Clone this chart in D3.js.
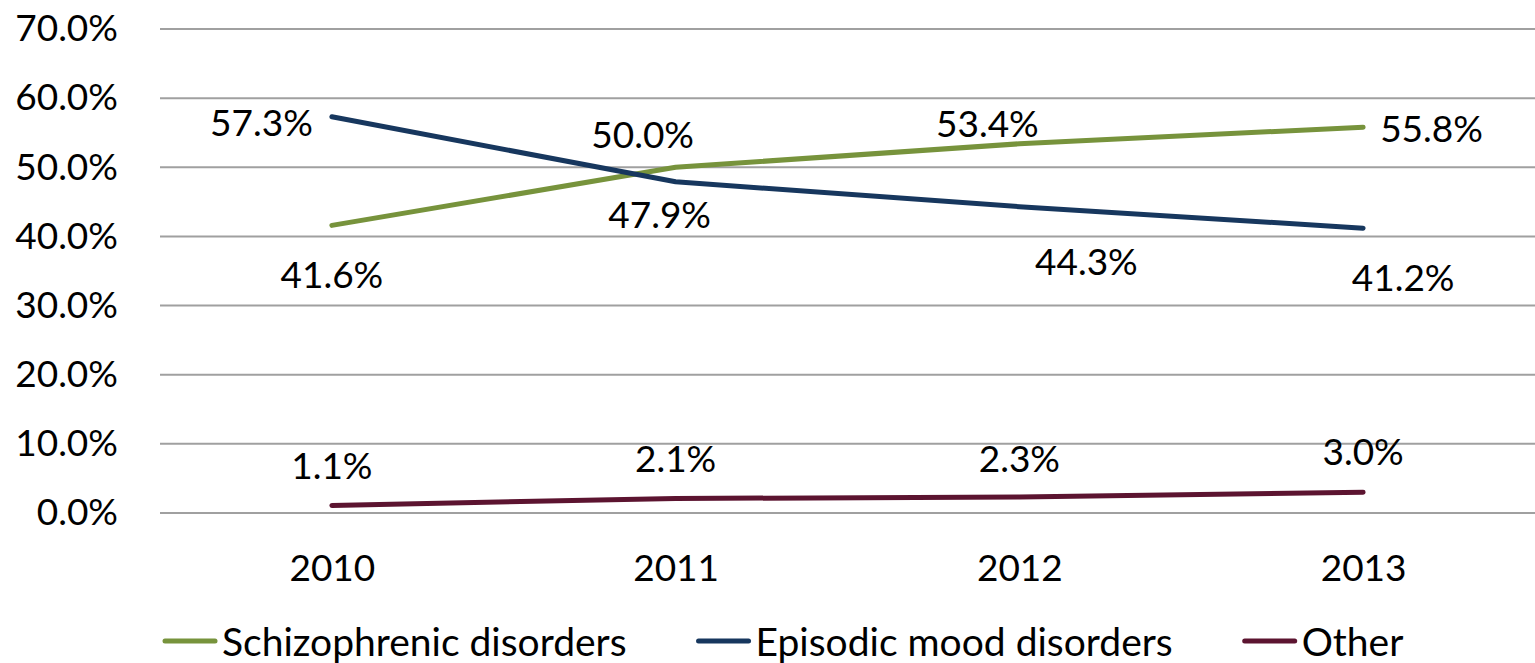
<!DOCTYPE html>
<html>
<head>
<meta charset="utf-8">
<script src="https://cdn.jsdelivr.net/npm/d3@7"></script>
<style>
  body { margin: 0; background: #fff; }
  text { font-family: Lato, "Open Sans", sans-serif; fill: #000; }
</style>
</head>
<body>
<div id="vis"></div>
<script>
// data
let years = ['2010', '2011', '2012', '2013']
let schizophrenic = [41.6, 50.0, 53.4, 55.8]
let episodicMood = [57.3, 47.9, 44.3, 41.2]
let other = [1.1, 2.1, 2.3, 3.0]
let yTicks = [0, 10, 20, 30, 40, 50, 60, 70]

// label placement (layout only)
let series = [
  {name: 'Schizophrenic disorders', values: schizophrenic, color: '#77933C',
   place: ['middle', 'middle', 'middle', 'start'], dx: [0, -33, -32, 17], dy: [48, -34, -21, 0]},
  {name: 'Episodic mood disorders', values: episodicMood, color: '#17375E',
   place: ['end', 'middle', 'middle', 'middle'], dx: [-19, -16, 67, 40], dy: [5, 32, 54, 48]},
  {name: 'Other', values: other, color: '#5C1430',
   place: ['middle', 'middle', 'middle', 'middle'], dx: [0, 0, 0, 0], dy: [-41, -41, -40, -42]}
]

let width = 1535, height = 663
let margin = {top: 29, right: 0, bottom: 150, left: 160}
let fontSize = 37

let svg = d3.select('#vis')
  .append('svg')
  .attr('width', width)
  .attr('height', height)

let xScale = d3.scalePoint()
  .domain(years)
  .range([margin.left, width - margin.right])
  .padding(0.5)

let yScale = d3.scaleLinear()
  .domain([0, 70])
  .range([height - margin.bottom, margin.top])

// gridlines
svg.append('g')
  .selectAll('line')
  .data(yTicks)
  .join('line')
  .attr('x1', margin.left)
  .attr('x2', width - margin.right)
  .attr('y1', d => yScale(d))
  .attr('y2', d => yScale(d))
  .attr('stroke', '#a0a0a0')
  .attr('stroke-width', 2)

// y axis labels
let yAxis = svg.append('g')
  .attr('transform', `translate(${margin.left},0)`)
  .call(d3.axisLeft(yScale).tickValues(yTicks).tickSize(0).tickPadding(42)
    .tickFormat(d => d.toFixed(1) + '%'))
yAxis.select('.domain').remove()
yAxis.selectAll('text').attr('font-size', fontSize).style('font-family', 'Lato')

// x axis labels
let xAxis = svg.append('g')
  .attr('transform', `translate(0,${yScale(0)})`)
  .call(d3.axisBottom(xScale).tickSize(0).tickPadding(42))
xAxis.select('.domain').remove()
xAxis.selectAll('text').attr('font-size', fontSize).style('font-family', 'Lato')

let line = d3.line()
  .x((d, i) => xScale(years[i]))
  .y(d => yScale(d))

svg.selectAll('.series')
  .data(series)
  .join('path')
  .attr('class', 'series')
  .attr('d', d => line(d.values))
  .attr('fill', 'none')
  .attr('stroke', d => d.color)
  .attr('stroke-width', 5)
  .attr('stroke-linecap', 'round')
  .attr('stroke-linejoin', 'round')

// data labels
series.forEach(s => {
  svg.append('g')
    .selectAll('text')
    .data(s.values)
    .join('text')
    .attr('font-size', fontSize)
    .attr('dominant-baseline', 'central')
    .attr('x', (d, i) => xScale(years[i]) + s.dx[i])
    .attr('y', (d, i) => yScale(d) + s.dy[i])
    .attr('text-anchor', (d, i) => s.place[i])
    .text(d => d.toFixed(1) + '%')
})

// legend
let legend = svg.append('g').attr('transform', `translate(165,641)`)
let lx = 0
series.forEach(s => {
  let g = legend.append('g').attr('transform', `translate(${lx},0)`)
  g.append('line')
    .attr('x1', 0).attr('x2', 50)
    .attr('stroke', s.color)
    .attr('stroke-width', 5)
    .attr('stroke-linecap', 'round')
  let t = g.append('text')
    .attr('x', 57)
    .attr('font-size', 39)
    .attr('dominant-baseline', 'central')
    .text(s.name)
  lx += 57 + t.node().getComputedTextLength() + 72
})
</script>
</body>
</html>
